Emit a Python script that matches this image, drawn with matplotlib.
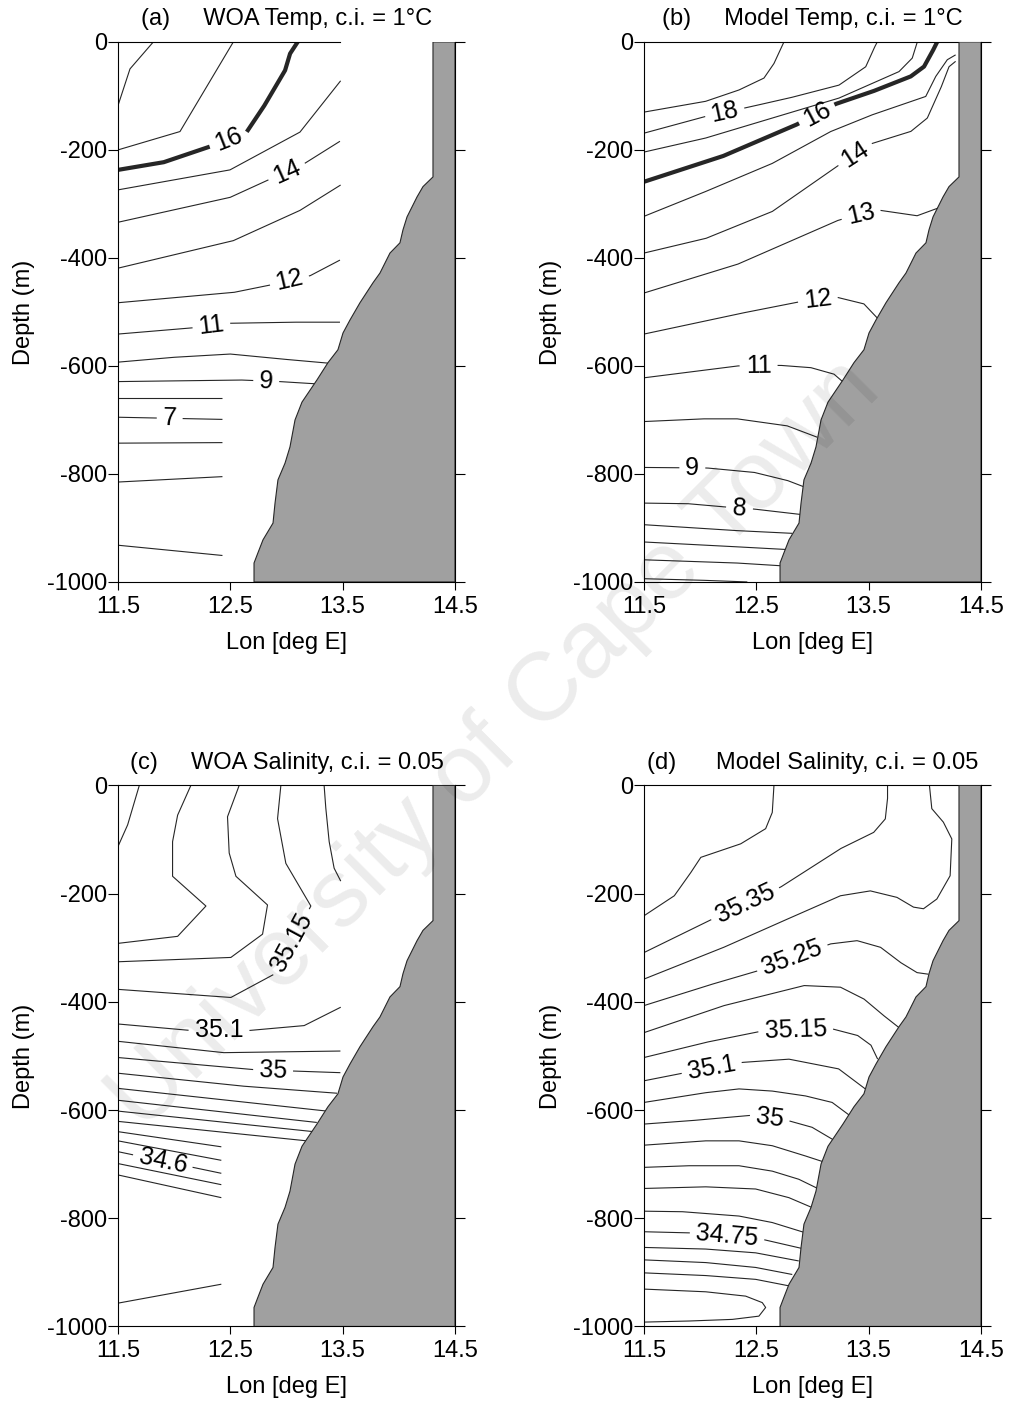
import matplotlib
matplotlib.use('Agg')
import matplotlib.pyplot as plt
import numpy as np

plt.rcParams['font.family'] = ['Liberation Sans', 'DejaVu Sans']
plt.rcParams['axes.unicode_minus'] = False

# shelf / slope profile shared by all four sections (lon, depth)
bathy_lon = [14.304, 14.304, 14.215, 14.162, 14.073, 14.037, 14.010, 13.921, 13.832, 13.770,
             13.654, 13.565, 13.503, 13.458, 13.369, 13.271, 13.138, 13.076, 13.031, 12.987,
             12.924, 12.898, 12.880, 12.791, 12.746, 12.711, 12.711]
bathy_dep = [0, -250, -268, -287, -324, -348, -372, -391, -428, -446,
             -483, -515, -539, -570, -594, -626, -667, -700, -750, -780,
             -811, -854, -891, -922, -946, -965, -1000]

# isolines: (level, lons, depths)
woa_temp = [
    (18, [11.5, 11.607, 11.815], [-118, -50, 0]),
    (17, [11.5, 12.052, 12.527], [-200, -166, 0]),
    (16, [11.5, 11.904, 12.304, 12.645, 12.794, 12.987, 13.031, 13.1], [-237, -223, -195, -167, -121, -53, -22, 0]),
    (15, [11.5, 12.497, 13.12, 13.482], [-274, -237, -167, -72]),
    (14, [11.5, 12.497, 12.823, 13.154, 13.476], [-334, -288, -257, -226, -184]),
    (13, [11.5, 12.527, 13.12, 13.482], [-419, -368, -312, -265]),
    (12, [11.5, 12.527, 12.838, 13.21, 13.476], [-483, -464, -451, -433, -404]),
    (11, [11.5, 12.142, 12.497, 13.031, 13.476], [-541, -530, -521, -519, -519]),
    (10, [11.5, 12.0, 12.5, 13.0, 13.38], [-593, -584, -578, -588, -595]),
    (9, [11.5, 12.586, 12.94, 13.25], [-629, -626, -629, -633]),
    (8, [11.5, 12.43], [-660, -660]),
    (7, [11.5, 12.43], [-695, -699]),
    (6, [11.5, 12.43], [-743, -742]),
    (5, [11.5, 12.43], [-815, -805]),
    (4, [11.5, 12.43], [-932, -951]),
]
model_temp = [
    (19, [11.5, 12.049, 12.346, 12.568, 12.657, 12.746], [-130, -110, -89, -67, -40, 0]),
    (18, [11.5, 12.049, 12.405, 12.791, 13.236, 13.474, 13.547, 13.577], [-169, -138, -122, -104, -80, -46, -12, 0]),
    (17, [11.5, 12.049, 12.642, 13.236, 13.77, 13.888, 13.933], [-204, -178, -141, -104, -55, -30, 0]),
    (16, [11.5, 12.197, 12.85, 13.206, 13.532, 13.874, 13.992, 14.067, 14.11], [-259, -212, -154, -115, -92, -64, -46, -18, 0]),
    (15, [11.5, 12.049, 12.642, 13.162, 13.532, 14.008, 14.097, 14.2, 14.274], [-323, -277, -225, -166, -135, -101, -64, -33, -24]),
    (14, [11.5, 12.049, 12.642, 13.236, 13.532, 13.874, 14.022, 14.141, 14.215, 14.274], [-391, -364, -314, -228, -188, -166, -141, -86, -46, -36]),
    (13, [11.5, 12.33, 13.22, 13.43, 13.605, 13.93, 14.14], [-465, -412, -331, -318, -312, -322, -306]),
    (12, [11.5, 12.33, 12.864, 13.22, 13.457, 13.58], [-541, -504, -482, -473, -485, -512]),
    (11, [11.5, 12.33, 12.716, 12.982, 13.19, 13.279], [-622, -600, -599, -603, -615, -631]),
    (10, [11.5, 12.034, 12.33, 12.775, 13.042], [-703, -698, -698, -711, -732]),
    (9, [11.5, 12.063, 12.478, 12.775, 12.938], [-788, -789, -797, -812, -825]),
    (8, [11.5, 11.885, 12.27, 12.478, 12.893], [-854, -855, -862, -865, -875]),
    (7, [11.5, 12.33, 12.82], [-894, -905, -910]),
    (6, [11.5, 12.33, 12.775], [-926, -935, -940]),
    (5, [11.5, 12.33, 12.716], [-959, -965, -970]),
    (4, [11.5, 12.034, 12.42], [-994, -997, -1000]),
]
woa_salt = [
    (35.3, [11.5, 11.586, 11.69], [-113, -73, 0]),
    (35.25, [12.149, 12.031, 11.986, 11.986, 12.283, 12.031, 11.5], [0, -55, -104, -168, -223, -279, -292]),
    (35.2, [12.579, 12.475, 12.49, 12.55, 12.831, 12.787, 12.505, 11.5], [0, -58, -125, -168, -221, -275, -318, -326]),
    (35.15, [12.95, 12.92, 12.994, 13.217, 12.89, 12.505, 11.5], [0, -61, -144, -223, -349, -392, -377]),
    (35.1, [13.335, 13.35, 13.38, 13.424, 13.483], [0, -42, -104, -153, -177]),
    (35.1, [11.5, 12.149, 12.668, 13.157, 13.483], [-441, -453, -453, -444, -410]),
    (35.05, [11.5, 12.442, 13.48], [-473, -494, -491]),
    (35.0, [11.5, 12.68, 13.065, 13.48], [-503, -525, -528, -531]),
    (34.95, [11.5, 12.62, 13.45], [-532, -556, -569]),
    (34.9, [11.5, 13.36], [-560, -602]),
    (34.85, [11.5, 13.27], [-582, -623]),
    (34.8, [11.5, 13.24], [-602, -640]),
    (34.75, [11.5, 13.18], [-621, -657]),
    (34.7, [11.5, 12.42], [-640, -668]),
    (34.65, [11.5, 12.42], [-657, -693]),
    (34.6, [11.5, 12.42], [-677, -717]),
    (34.55, [11.5, 12.42], [-699, -738]),
    (34.5, [11.5, 12.42], [-720, -762]),
    (34.55, [11.5, 12.42], [-957, -922]),
]
model_salt = [
    (35.4, [11.5, 11.77, 11.917, 12.006, 12.361, 12.583, 12.642, 12.657], [-241, -204, -161, -133, -108, -80, -50, 0]),
    (35.35, [11.5, 12.11, 12.716, 13.249, 13.544, 13.648, 13.668, 13.668], [-309, -247, -188, -117, -87, -62, -25, 0]),
    (35.3, [11.5, 12.213, 12.778, 13.249, 13.515, 13.752, 13.899, 13.988, 14.107, 14.225, 14.24, 14.165, 14.062, 14.041],
     [-358, -299, -247, -204, -195, -207, -225, -228, -210, -167, -99, -68, -43, 0]),
    (35.25, [11.5, 12.065, 12.509, 13.16, 13.397, 13.604, 13.781, 13.929, 14.032], [-407, -370, -343, -293, -287, -299, -327, -346, -349]),
    (35.2, [11.5, 12.213, 12.926, 13.249, 13.459, 13.637, 13.784], [-457, -407, -370, -373, -395, -426, -450]),
    (35.15, [11.5, 12.05, 12.553, 13.175, 13.4, 13.52, 13.58], [-503, -475, -454, -450, -462, -480, -506]),
    (35.1, [11.5, 11.843, 12.376, 12.79, 13.233, 13.47], [-546, -532, -512, -506, -524, -561]),
    (35.05, [11.5, 12.05, 12.346, 12.642, 12.938, 13.175, 13.337], [-586, -568, -561, -565, -574, -586, -611]),
    (35.0, [11.5, 11.902, 12.435, 12.79, 12.997, 13.175, 13.204], [-626, -620, -610, -620, -632, -654, -657]),
    (34.95, [11.5, 12.05, 12.346, 12.642, 12.938, 13.115], [-665, -657, -657, -666, -685, -697]),
    (34.9, [11.5, 11.902, 12.346, 12.642, 12.878, 13.056], [-706, -703, -703, -713, -728, -746]),
    (34.85, [11.5, 12.05, 12.494, 12.79, 13.027], [-745, -742, -746, -762, -783]),
    (34.8, [11.5, 11.843, 12.346, 12.642, 12.938], [-787, -788, -796, -808, -827]),
    (34.75, [11.5, 11.902, 12.553, 12.908], [-825, -827, -839, -856]),
    (34.7, [11.5, 12.05, 12.494, 12.878], [-854, -857, -864, -879]),
    (34.65, [11.5, 12.05, 12.494, 12.82], [-877, -882, -891, -904]),
    (34.6, [11.5, 12.05, 12.494, 12.79], [-901, -906, -913, -925]),
    (34.55, [11.5, 12.05, 12.405, 12.553, 12.583, 12.523, 12.287, 11.902, 11.5],
     [-931, -936, -944, -956, -965, -981, -987, -990, -992]),
]

# where the inline labels sit: (line index, lon, depth)
woa_temp_labels = [(2, 12.48, -180), (4, 13.0, -240), (6, 13.03, -443), (7, 12.33, -524), (9, 12.82, -630), (11, 11.96, -697)]
model_temp_labels = [(1, 12.22, -130), (3, 13.03, -131), (5, 13.38, -209), (6, 13.43, -318),
                     (7, 13.05, -478), (8, 12.52, -600), (10, 11.93, -788), (11, 12.35, -862)]
woa_salt_labels = [(3, 13.05, -290), (5, 12.4, -453), (7, 12.88, -527), (15, 11.9, -695)]
model_salt_labels = [(1, 12.4, -218), (3, 12.82, -319), (5, 12.85, -452), (6, 12.1, -521), (8, 12.62, -612), (13, 12.24, -832)]

titles = ['(a)     WOA Temp, c.i. = 1\u00b0C', '(b)     Model Temp, c.i. = 1\u00b0C',
          '(c)     WOA Salinity, c.i. = 0.05', '(d)      Model Salinity, c.i. = 0.05']

FS = 17
LFS = 18
fig = plt.figure(figsize=(10.1, 14.06), dpi=100)
renderer = fig.canvas.get_renderer()

rects = [[0.1168, 0.5861, 0.3337, 0.3841], [0.6376, 0.5861, 0.3337, 0.3841],
         [0.1168, 0.0566, 0.3337, 0.3848], [0.6376, 0.0566, 0.3337, 0.3848]]


def draw_isoline(ax, lons, deps, lw, label=None, anchor=None):
    if label is None:
        ax.plot(lons, deps, color='0.15', lw=lw, zorder=2, solid_capstyle='butt')
        return
    xy = ax.transData.transform(np.column_stack([lons, deps]))
    s = np.r_[0, np.cumsum(np.hypot(*np.diff(xy, axis=0).T))]
    sd = np.linspace(0, s[-1], int(s[-1] * 2) + 2)
    xd = np.interp(sd, s, xy[:, 0])
    yd = np.interp(sd, s, xy[:, 1])
    a = ax.transData.transform([anchor])[0]
    i = np.argmin(np.hypot(xd - a[0], yd - a[1]))
    j0, j1 = max(i - 16, 0), min(i + 16, len(sd) - 1)
    ang = np.degrees(np.arctan2(yd[j1] - yd[j0], xd[j1] - xd[j0]))
    if ang > 90:
        ang -= 180
    if ang < -90:
        ang += 180
    cx, cy = ax.transData.inverted().transform((xd[i], yd[i]))
    t = ax.text(cx, cy, label, fontsize=LFS, ha='center', va='center',
                rotation_mode='anchor', zorder=2.5)
    w = t.get_window_extent(renderer).width
    t.set_rotation(ang)
    pts = ax.transData.inverted().transform(np.column_stack([xd, yd]))
    gap = np.abs(sd - sd[i]) < w / 2 + 6
    pts[gap] = np.nan
    ax.plot(pts[:, 0], pts[:, 1], color='0.15', lw=lw, zorder=2, solid_capstyle='butt')


panels = [(woa_temp, woa_temp_labels), (model_temp, model_temp_labels),
          (woa_salt, woa_salt_labels), (model_salt, model_salt_labels)]

for k, (lines, labels) in enumerate(panels):
    ax = fig.add_axes(rects[k])
    ax.set_xlim(11.5, 14.5)
    ax.set_ylim(-1000, 0)
    ax.set_xticks([11.5, 12.5, 13.5, 14.5])
    ax.set_yticks(np.arange(-1000, 1, 200))
    ax.tick_params(axis='y', left=True, right=True, direction='out', length=7, width=0.8,
                   pad=1, labelsize=FS)
    ax.tick_params(axis='x', bottom=True, top=False, direction='out', length=6, width=0.8,
                   pad=4, labelsize=FS)
    for sp in ax.spines.values():
        sp.set_linewidth(0.8)
    if k == 0:
        ax.spines['top'].set_bounds(11.5, 13.48)
    ax.set_xlabel('Lon [deg E]', fontsize=FS, labelpad=10)
    ax.set_ylabel('Depth (m)', fontsize=FS, labelpad=8)
    ax.set_title(titles[k], fontsize=FS, pad=12)

    lab = {i: (x, y) for i, x, y in labels}
    for i, (lvl, lons, deps) in enumerate(lines):
        lw = 3.0 if (k < 2 and lvl == 16) else 0.8
        if i in lab:
            draw_isoline(ax, lons, deps, lw, label=f'{lvl:g}', anchor=lab[i])
        else:
            draw_isoline(ax, lons, deps, lw)

    ax.fill(np.r_[bathy_lon, 14.5, 14.5], np.r_[bathy_dep, -1000, 0],
            facecolor='#a0a0a0', edgecolor='0.15', lw=0.8, zorder=3)

fig.text(0.49, 0.47, 'University of Cape Town', rotation=45, fontsize=70, color='k',
         alpha=0.08, ha='center', va='center', zorder=10)

fig.savefig('out.png', dpi=100)
